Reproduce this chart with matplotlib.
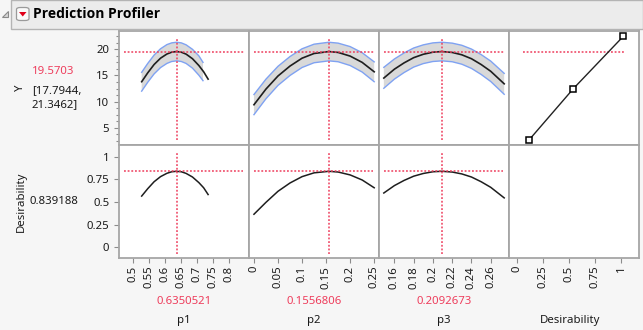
import matplotlib
matplotlib.use("Agg")
import matplotlib.pyplot as plt
from matplotlib.patches import Rectangle, FancyBboxPatch, Polygon
from matplotlib.ticker import FixedLocator

plt.rcParams['font.family'] = ['Noto Sans', 'DejaVu Sans']

#------------------------------------------------------------------------------
# perfiles de prediccion (Y) y deseabilidad para cada factor
p1_x = [0.526, 0.545, 0.565, 0.585, 0.605, 0.620, 0.635, 0.650, 0.665, 0.685, 0.705, 0.720, 0.734]
p1_y = [13.8, 15.5, 17.1, 18.3, 19.1, 19.45, 19.57, 19.45, 19.08, 18.2, 16.9, 15.7, 14.3]
p1_band_x = [0.526, 0.545, 0.565, 0.585, 0.605, 0.620, 0.635, 0.650, 0.665, 0.685, 0.705, 0.718]
p1_lo = [12.0, 13.7, 15.3, 16.5, 17.3, 17.67, 17.79, 17.67, 17.3, 16.4, 15.05, 14.0]
p1_hi = [15.6, 17.3, 18.9, 20.1, 20.9, 21.23, 21.35, 21.23, 20.86, 20.0, 18.75, 17.5]
p1_des = [0.565, 0.647, 0.724, 0.780, 0.817, 0.834, 0.839, 0.834, 0.816, 0.776, 0.714, 0.657, 0.582]

p2_x = [0.0, 0.025, 0.05, 0.075, 0.1, 0.125, 0.1557, 0.175, 0.2, 0.225, 0.25]
p2_y = [9.4, 12.4, 14.9, 16.8, 18.3, 19.2, 19.57, 19.4, 18.7, 17.5, 15.7]
p2_lo = [7.5, 10.55, 13.1, 15.0, 16.52, 17.43, 17.79, 17.62, 16.9, 15.65, 13.8]
p2_hi = [11.35, 14.3, 16.75, 18.62, 20.1, 20.98, 21.35, 21.18, 20.52, 19.35, 17.6]
p2_des = [0.364, 0.496, 0.618, 0.710, 0.780, 0.822, 0.839, 0.831, 0.799, 0.743, 0.657]

p3_x = [0.149, 0.16, 0.17, 0.18, 0.19, 0.2, 0.2093, 0.22, 0.23, 0.24, 0.25, 0.26, 0.274]
p3_y = [14.5, 16.2, 17.4, 18.4, 19.05, 19.45, 19.57, 19.4, 18.95, 18.2, 17.1, 15.8, 13.4]
p3_lo = [12.55, 14.3, 15.55, 16.6, 17.27, 17.67, 17.79, 17.62, 17.15, 16.35, 15.2, 13.85, 11.4]
p3_hi = [16.55, 18.15, 19.3, 20.25, 20.85, 21.23, 21.35, 21.18, 20.77, 20.05, 19.0, 17.75, 15.4]
p3_des = [0.599, 0.681, 0.738, 0.785, 0.815, 0.834, 0.839, 0.831, 0.810, 0.776, 0.724, 0.662, 0.545]

# funcion de deseabilidad (Y vs deseabilidad)
des_fn_x = [0.11, 0.54, 1.02]
des_fn_y = [2.6, 12.5, 22.5]

factores = ['p1', 'p2', 'p3']
actuales = [0.6350521, 0.1556806, 0.2092673]
y_pred = 19.5703
y_ic = [17.7944, 21.3462]
des_actual = 0.839188

p1_ticks = [0.5, 0.55, 0.6, 0.65, 0.7, 0.75, 0.8]
p1_labels = ['0.5', '0.55', '0.6', '0.65', '0.7', '0.75', '0.8']
p2_ticks = [0, 0.05, 0.1, 0.15, 0.2, 0.25]
p2_labels = ['0', '0.05', '0.1', '0.15', '0.2', '0.25']
p3_ticks = [0.16, 0.18, 0.2, 0.22, 0.24, 0.26]
p3_labels = ['0.16', '0.18', '0.2', '0.22', '0.24', '0.26']
d_ticks = [0, 0.25, 0.5, 0.75, 1]
d_labels = ['0', '0.25', '0.5', '0.75', '1']
y_ticks = [5, 10, 15, 20]

#------------------------------------------------------------------------------
W, H = 643, 330
ROJO = '#ee3d5c'
GRIS = '#a6a6a6'
FS = 8.2

fig = plt.figure(figsize=(W / 100, H / 100), dpi=100, facecolor='#f6f6f6')


def ejes_px(x0, y0, x1, y1):
    # ejes ubicados en pixeles (origen arriba a la izquierda)
    ax = fig.add_axes([x0 / W, 1 - y1 / H, (x1 - x0) / W, (y1 - y0) / H])
    ax.set_facecolor('white')
    for s in ax.spines.values():
        s.set_color(GRIS)
        s.set_linewidth(1.3)
    ax.tick_params(which='both', color='#8c8c8c', width=0.8, labelsize=FS,
                   labelcolor='#1a1a1a', direction='out')
    ax.tick_params(which='major', length=3.6)
    ax.tick_params(which='minor', length=2.2)
    return ax


def texto_px(x, y, s, **kw):
    fig.text(x / W, 1 - y / H, s, fontsize=kw.pop('fontsize', FS), **kw)


cols = [119, 249, 379, 509, 639]
fila_y = [31, 145, 258]
xlims = [(0.455, 0.862), (-0.0103, 0.26), (0.144, 0.279), (-0.08, 1.17)]
xticks = [(p1_ticks, p1_labels), (p2_ticks, p2_labels), (p3_ticks, p3_labels), (d_ticks, d_labels)]
Y_LIM = (1.7, 23.5)
D_LIM = (-0.12, 1.13)

curvas = [(p1_x, p1_y, p1_band_x, p1_lo, p1_hi, p1_des),
          (p2_x, p2_y, p2_x, p2_lo, p2_hi, p2_des),
          (p3_x, p3_y, p3_x, p3_lo, p3_hi, p3_des)]

punteado = dict(color=ROJO, linestyle=(0, (1.2, 1.2)), linewidth=1.1)

for i in range(4):
    ay = ejes_px(cols[i], fila_y[0], cols[i + 1], fila_y[1])
    ad = ejes_px(cols[i], fila_y[1], cols[i + 1], fila_y[2])
    for ax in (ay, ad):
        ax.set_xlim(*xlims[i])
    ay.set_ylim(*Y_LIM)
    ad.set_ylim(*D_LIM)

    ay.set_xticks([])
    ad.set_xticks(xticks[i][0])
    ad.set_xticklabels(xticks[i][1], rotation=90)
    ad.tick_params(axis='x', pad=2)

    if i == 0:
        ay.set_yticks(y_ticks)
        ay.yaxis.set_minor_locator(FixedLocator([2.5, 3.75, 6.25, 7.5, 8.75, 11.25, 12.5, 13.75,
                                                 16.25, 17.5, 18.75, 21.25, 22.5]))
        ad.set_yticks(d_ticks)
        ad.set_yticklabels(['0', '0.25', '0.5', '0.75', '1'])
    else:
        ay.set_yticks([])
        ad.set_yticks([])

    if i < 3:
        x, y, bx, lo, hi, des = curvas[i]
        ay.fill(bx + bx[::-1], hi + lo[::-1], color='#d9d9d9', zorder=1, lw=0)
        ay.plot(bx, hi, color='#7fa2f2', lw=1.0, zorder=2)
        ay.plot(bx, lo, color='#7fa2f2', lw=1.0, zorder=2)
        ay.plot(x, y, color='#1e1e1e', lw=1.2, zorder=3)
        ad.plot(x, des, color='#1e1e1e', lw=1.1, zorder=3)

        ay.axhline(y_pred, xmin=0.04, xmax=0.96, zorder=4, **punteado)
        ay.axvline(actuales[i], ymin=0.045, ymax=0.935, zorder=4, **punteado)
        ad.axhline(des_actual, xmin=0.04, xmax=0.955, zorder=4, **punteado)
        ad.axvline(actuales[i], ymin=0.035, ymax=0.94, zorder=4, **punteado)

        cx = (cols[i] + cols[i + 1]) / 2
        texto_px(cx, 302, '%.7f' % actuales[i], color=ROJO, ha='center', va='center')
        texto_px(cx, 320, factores[i], color='#1a1a1a', ha='center', va='center')
    else:
        ay.axhline(y_pred, xmin=0.105, xmax=0.892, zorder=1, **punteado)
        ay.plot(des_fn_x, des_fn_y, color='#222222', lw=1.0, marker='s', ms=4.5,
                mfc='white', mec='black', mew=1.1, zorder=3)
        texto_px(570, 320, 'Desirability', color='#1a1a1a', ha='center', va='center')

# etiquetas de la respuesta a la izquierda
texto_px(20, 88, 'Y', rotation=90, ha='center', va='center', color='#1a1a1a')
texto_px(32, 72, '%.4f' % y_pred, color=ROJO, ha='left', va='center')
texto_px(32, 90.5, '[%.4f,' % y_ic[0], color='#1a1a1a', ha='left', va='center')
texto_px(32, 105, '%.4f]' % y_ic[1], color='#1a1a1a', ha='left', va='center')
texto_px(21, 202, 'Desirability', rotation=90, ha='center', va='center', color='#1a1a1a')
texto_px(29, 202, '%.6f' % des_actual, color='#1a1a1a', ha='left', va='center')

# barra de titulo
fig.patches.append(Rectangle((11 / W, 1 - 29 / H), (W - 11) / W, 28.5 / H,
                             transform=fig.transFigure, facecolor='#ececec',
                             edgecolor='#b4b4b4', lw=1.0))
fig.patches.append(FancyBboxPatch((16.5 / W, 1 - 20.5 / H), 12.5 / W, 13 / H,
                                  boxstyle='round,pad=0,rounding_size=0.006',
                                  transform=fig.transFigure, facecolor='#fafafa',
                                  edgecolor='#9a9a9a', lw=0.9))
fig.patches.append(Polygon([(19 / W, 1 - 12 / H), (26.5 / W, 1 - 12 / H), (22.75 / W, 1 - 16.5 / H)],
                           closed=True, transform=fig.transFigure, facecolor='#e0001a',
                           edgecolor='none'))
fig.patches.append(Polygon([(1.5 / W, 1 - 17 / H), (8 / W, 1 - 17 / H), (8 / W, 1 - 10.5 / H)],
                           closed=True, transform=fig.transFigure, facecolor='#d8d8d8',
                           edgecolor='#8a8a8a', lw=0.8))
texto_px(33, 18, 'Prediction Profiler', fontsize=10.0, fontweight='bold', color='black',
         ha='left', va='baseline', family=['Open Sans', 'Lato', 'DejaVu Sans'])

fig.savefig('out.png', dpi=100, facecolor=fig.get_facecolor())
